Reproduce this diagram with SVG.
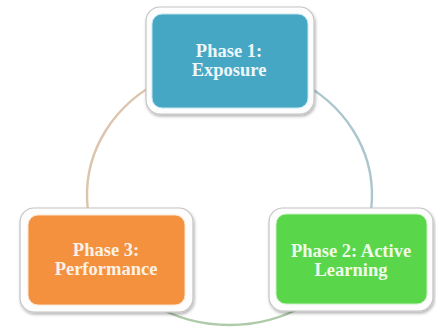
<svg xmlns="http://www.w3.org/2000/svg" width="436" height="329" viewBox="0 0 436 329">
<defs>
<filter id="sh" x="-10%" y="-10%" width="120%" height="130%">
<feDropShadow dx="1" dy="2" stdDeviation="1.8" flood-color="#000" flood-opacity="0.3"/>
</filter>
<style>
.frame{fill:#fdfdfd;stroke:#c4c4c4;stroke-width:1.2;filter:url(#sh)}
.arc{fill:none;stroke-width:2.4}
.lbl{font-family:"Liberation Serif","Times New Roman",serif;font-weight:bold;font-size:18.5px;text-anchor:middle}
</style>
</defs>
<rect width="436" height="329" fill="#ffffff"/>
<g id="connectors">
<path class="arc" stroke="#dcc4ad" d="M229.5,65 A142.5,130 0 0 0 106.1,260"/>
<path class="arc" stroke="#abc6cd" d="M229.5,65 A142.5,130 0 0 1 352.9,260"/>
<path class="arc" stroke="#aecaa9" d="M352.9,260 A142.5,130 0 0 1 106.1,260"/>
</g>
<g id="phase1">
<rect class="frame" x="146" y="7" width="168" height="107" rx="14"/>
<rect x="152" y="14" width="156" height="94" rx="10" fill="#46a7c5" stroke="#bfe6ef" stroke-width="1"/>
<text class="lbl" fill="#eef7f9" x="229" y="57">Phase 1:</text>
<text class="lbl" fill="#eef7f9" x="229" y="76">Exposure</text>
</g>
<g id="phase2">
<rect class="frame" x="269" y="208" width="164" height="103" rx="14"/>
<rect x="276" y="214" width="151" height="90" rx="10" fill="#5ad64b" stroke="#c8f3c0" stroke-width="1"/>
<text class="lbl" fill="#effbea" x="351" y="257">Phase 2: Active</text>
<text class="lbl" fill="#effbea" x="351" y="276">Learning</text>
</g>
<g id="phase3">
<rect class="frame" x="20" y="208" width="173" height="104" rx="14"/>
<rect x="28" y="215" width="157" height="90" rx="10" fill="#f4913e" stroke="#fde3cc" stroke-width="1"/>
<text class="lbl" fill="#fdf1e6" x="106" y="256">Phase 3:</text>
<text class="lbl" fill="#fdf1e6" x="106" y="275">Performance</text>
</g>
</svg>
